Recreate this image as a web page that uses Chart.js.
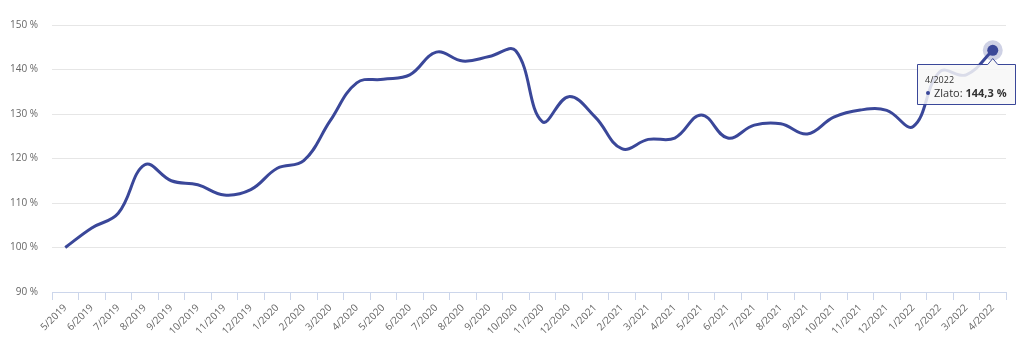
<!DOCTYPE html>
<html lang="sk">
<head>
<meta charset="utf-8">
<title>Zlato</title>
<script src="https://cdn.jsdelivr.net/npm/chart.js@4.4.1/dist/chart.umd.min.js"></script>
<style>
    html, body { margin: 0; padding: 0; background: #fff; }
    #obal { position: relative; width: 1024px; height: 343px; }
    #tooltip { position: absolute; display: none; pointer-events: none; font-family: 'Open Sans', sans-serif; color: #333; white-space: nowrap; }
    #tooltip svg { position: absolute; left: 0; top: 0; }
    #tooltip .box { position: relative; margin-top: 6px; padding: 10px 9px 6px 8px; }
    #tooltip .hlavicka { font-size: 9px; line-height: 12px; }
    #tooltip .riadok { font-size: 11px; line-height: 13px; }
    #tooltip .bodka { display: inline-block; width: 4px; height: 4px; border-radius: 50%; background: #3a4799; margin: 0 4px 2px 1px; vertical-align: middle; }
</style>
</head>
<body>
<div id="obal">
    <canvas id="graf-zlato" width="1024" height="343"></canvas>
    <div id="tooltip">
        <svg><path></path></svg>
        <div class="box">
            <div class="hlavicka"></div>
            <div class="riadok"><span class="bodka"></span><span class="nazov"></span><b class="hodnota"></b></div>
        </div>
    </div>
</div>
<script>
// Mesiace na osi X
const mesiace = [
    '5/2019', '6/2019', '7/2019', '8/2019', '9/2019', '10/2019', '11/2019', '12/2019',
    '1/2020', '2/2020', '3/2020', '4/2020', '5/2020', '6/2020', '7/2020', '8/2020',
    '9/2020', '10/2020', '11/2020', '12/2020', '1/2021', '2/2021', '3/2021', '4/2021',
    '5/2021', '6/2021', '7/2021', '8/2021', '9/2021', '10/2021', '11/2021', '12/2021',
    '1/2022', '2/2022', '3/2022', '4/2022'
];

// Zhodnotenie zlata v % (odčítané z grafu)
const zlato = [
    100.0, 104.4, 107.7, 118.6, 115.0, 114.1, 111.8, 113.0,
    117.8, 119.5, 128.5, 137.0, 137.8, 138.8, 143.9, 141.9,
    142.9, 144.2, 128.3, 133.9, 129.3, 122.2, 124.3, 124.6,
    129.8, 124.6, 127.5, 127.8, 125.5, 129.3, 130.9, 130.8,
    127.2, 139.5, 138.8, 144.3
];

// Popisy osi Y
const osY = [90, 100, 110, 120, 130, 140, 150];

const farbaCiary = '#3a4799';
Chart.defaults.font.family = "'Open Sans', sans-serif";

/**
 * Tooltip v štýle pôvodného grafu (HTML, aby hodnota mohla byť tučná).
 */
function vonkajsiTooltip(context) {
    const { chart, tooltip } = context;
    const el = document.getElementById('tooltip');
    if (tooltip.opacity === 0 || !tooltip.dataPoints || !tooltip.dataPoints.length) {
        el.style.display = 'none';
        return;
    }
    const bod = tooltip.dataPoints[0];
    el.querySelector('.hlavicka').textContent = bod.label;
    el.querySelector('.nazov').textContent = bod.dataset.label + ': ';
    el.querySelector('.hodnota').textContent = bod.raw.toFixed(1).replace('.', ',') + ' %';
    el.style.display = 'block';

    const box = el.querySelector('.box');
    const w = box.offsetWidth;
    const h = box.offsetHeight;
    const left = Math.min(tooltip.caretX - w / 2, chart.width - w - 8);
    const top = tooltip.caretY + 8;
    el.style.left = left + 'px';
    el.style.top = top + 'px';

    const cx = tooltip.caretX - left;
    const svg = el.querySelector('svg');
    svg.setAttribute('width', w);
    svg.setAttribute('height', h + 6);
    const path = svg.querySelector('path');
    path.setAttribute('d',
        `M0.5,6.5 H${cx - 5} L${cx},0.5 L${cx + 5},6.5 H${w - 0.5} V${h + 5.5} H0.5 Z`);
    path.setAttribute('fill', 'rgba(247,247,247,0.85)');
    path.setAttribute('stroke', farbaCiary);
    path.setAttribute('stroke-width', '1');
}

const ctx = document.getElementById('graf-zlato');
const graf = new Chart(ctx, {
    type: 'line',
    data: {
        labels: mesiace,
        datasets: [{
            label: 'Zlato',
            data: zlato,
            borderColor: farbaCiary,
            borderWidth: 3,
            tension: 0.4,
            fill: false,
            pointRadius: 0,
            pointHoverRadius: 5.5,
            pointHoverBackgroundColor: farbaCiary,
            pointHoverBorderColor: 'rgba(58,71,153,0.25)',
            pointHoverBorderWidth: 9
        }]
    },
    options: {
        responsive: false,
        animation: false,
        events: [],
        layout: { padding: { top: 25, right: 18, bottom: 0, left: 0 } },
        plugins: {
            legend: { display: false },
            tooltip: { enabled: false, external: vonkajsiTooltip }
        },
        scales: {
            x: {
                offset: true,
                grid: {
                    offset: true,
                    drawOnChartArea: false,
                    drawTicks: true,
                    tickLength: 8,
                    color: '#ccd6eb',
                    tickColor: '#ccd6eb'
                },
                border: { display: true, color: '#ccd6eb', width: 1 },
                ticks: {
                    autoSkip: false,
                    maxRotation: 45,
                    minRotation: 45,
                    padding: 2,
                    color: '#666666',
                    font: { size: 10 }
                },
                afterFit: s => { s.height = 51; }
            },
            y: {
                min: osY[0],
                max: osY[osY.length - 1],
                afterBuildTicks: s => { s.ticks = osY.map(v => ({ value: v })); },
                ticks: {
                    padding: 14,
                    color: '#666666',
                    font: { size: 10 },
                    callback: v => v + ' %'
                },
                grid: {
                    drawTicks: false,
                    color: c => (c.tick && c.tick.value === osY[0]) ? 'rgba(0,0,0,0)' : '#e6e6e6'
                },
                border: { display: false },
                afterFit: s => { s.width = 52; }
            }
        }
    }
});

// Zvýraznený posledný bod s tooltipom
const posledny = zlato.length - 1;
const prvok = graf.getDatasetMeta(0).data[posledny];
graf.setActiveElements([{ datasetIndex: 0, index: posledny }]);
graf.tooltip.setActiveElements([{ datasetIndex: 0, index: posledny }], { x: prvok.x, y: prvok.y });
graf.render();
</script>
</body>
</html>
